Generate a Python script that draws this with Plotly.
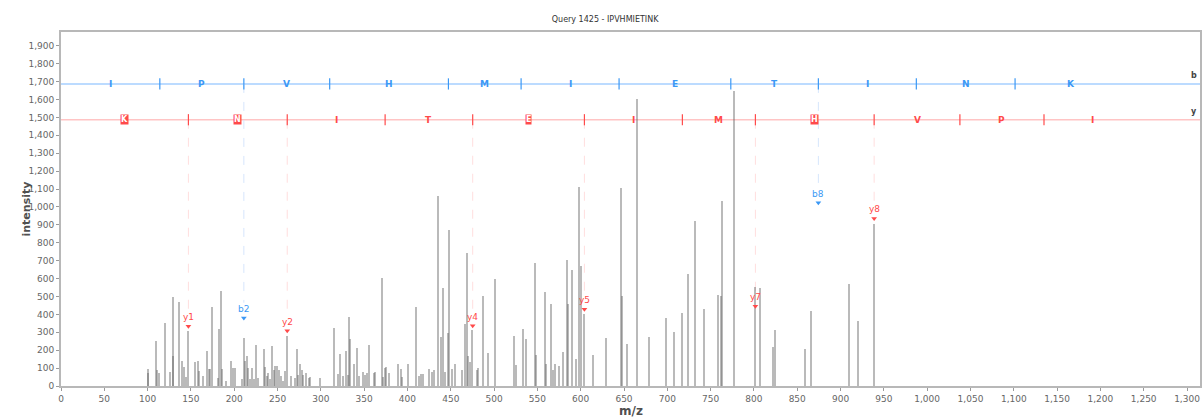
import plotly.graph_objects as go

title_text = "Query 1425 - IPVHMIETINK"
peptide = "IPVHMIETINK"

# centroided MS/MS peaks (m/z, intensity)
peak_mz = [
    100.2, 101.0, 109.8, 111.4, 113.4, 119.8, 126.4, 129.0, 129.8, 135.9,
    139.6, 142.4, 144.0, 147.1, 155.2, 158.6, 159.6, 164.4, 168.7, 170.4,
    172.4, 174.4, 180.8, 182.9, 184.8, 186.4, 190.4, 196.4, 198.4, 201.4,
    208.4, 211.0, 212.9, 214.9, 216.4, 218.4, 220.4, 222.9, 225.2, 227.1,
    234.0, 235.4, 237.4, 239.4, 241.4, 243.6, 245.5, 247.3, 249.3, 251.3,
    253.9, 255.8, 258.3, 261.3, 265.9, 270.3, 272.4, 273.6, 275.9, 277.8,
    279.0, 283.2, 285.8, 287.8, 299.3, 315.1, 320.3, 322.4, 326.0, 329.0,
    330.9, 332.8, 333.4, 338.6, 341.7, 343.7, 348.2, 350.9, 353.2, 355.9,
    361.7, 362.8, 370.1, 372.0, 373.5, 375.2, 378.9, 389.2, 392.2, 394.2,
    400.8, 410.0, 413.5, 415.2, 417.9, 425.1, 428.2, 430.2, 435.6, 438.5,
    441.2, 443.2, 447.0, 448.1, 451.7, 455.1, 462.7, 466.6, 469.3, 470.2,
    472.4, 474.9, 480.7, 481.6, 487.3, 493.1, 501.1, 523.1, 525.1, 533.4,
    536.5, 547.3, 548.6, 558.5, 560.4, 565.4, 568.1, 570.1, 575.0, 580.0,
    583.8, 585.7, 590.4, 594.1, 597.7, 600.3, 604.1, 614.1, 628.8, 646.8,
    647.5, 653.3, 664.6, 678.4, 698.9, 707.5, 717.5, 723.9, 732.5, 742.5,
    758.3, 761.7, 763.3, 777.5, 800.8, 806.6, 822.0, 824.3, 858.6, 865.5,
    910.1, 920.1, 938.2,
]
peak_int = [
    75, 97, 251, 90, 75, 354, 80, 495, 165, 470,
    140, 105, 50, 307, 133, 140, 85, 55, 195, 95,
    95, 443, 45, 317, 532, 95, 30, 140, 100, 100,
    40, 266, 140, 165, 100, 40, 100, 40, 230, 45,
    208, 105, 55, 75, 40, 222, 90, 110, 110, 90,
    55, 30, 85, 279, 55, 43, 205, 60, 121, 90,
    60, 70, 45, 50, 43, 322, 67, 179, 58, 193,
    64, 385, 260, 125, 215, 56, 76, 61, 70, 229,
    74, 80, 601, 50, 100, 105, 73, 123, 95, 50,
    123, 443, 58, 65, 65, 95, 80, 90, 1061, 274,
    546, 77, 294, 871, 95, 123, 87, 346, 745, 165,
    134, 311, 90, 100, 503, 182, 598, 281, 115, 317,
    260, 685, 172, 527, 122, 456, 90, 123, 110, 190,
    704, 456, 648, 150, 1110, 672, 402, 172, 266, 1104,
    502, 237, 1602, 275, 381, 301, 407, 625, 922, 432,
    508, 500, 1033, 1650, 555, 550, 220, 312, 205, 421,
    568, 361, 905,
]

# fragment ladders: b1..b10 / y1..y10, last entry closes the ladder
b_ion_mz = [114.1, 211.1, 310.2, 447.3, 531.2, 644.3, 773.3, 874.4, 987.5, 1101.5, 1229.6]
y_ion_mz = [147.1, 261.2, 374.2, 475.3, 604.3, 717.4, 801.7, 938.8, 1037.8, 1134.9, 1248.0]
b_row_level = 1687
y_row_level = 1487
y_boxed_residues = [0, 1, 4, 7]  # residues bracketed by two matched y ions
b_boxed_residues = []

# matched fragment annotations
matched_labels = ["y1", "b2", "y2", "y4", "y5", "y7", "b8", "y8"]
matched_mz = [147.1, 211.1, 261.2, 475.3, 604.3, 801.7, 874.4, 938.8]
matched_level = [334, 380, 308, 336, 429, 446, 1024, 936]

BLUE = "#3b98f5"
RED = "#ff4a4a"
BLUE_LINE = "#a6cfff"
RED_LINE = "#ffc4c4"
BAR = "rgba(95,95,95,0.43)"
FONT = "DejaVu Sans"

fig = go.Figure()

fig.add_trace(go.Bar(
    x=peak_mz, y=peak_int, width=2.3,
    marker=dict(color=BAR, line=dict(width=0)),
    showlegend=False, hoverinfo="x+y",
))

shapes = []
annotations = []

# ladder rows
for level, col in ((b_row_level, BLUE_LINE), (y_row_level, RED_LINE)):
    shapes.append(dict(type="line", xref="paper", yref="y", x0=0, x1=1,
                       y0=level, y1=level, line=dict(color=col, width=1.6), layer="below"))

# ladder ticks
fig.add_trace(go.Scatter(
    x=b_ion_mz[:-1], y=[b_row_level] * (len(b_ion_mz) - 1), mode="markers",
    marker=dict(symbol="line-ns", size=8, line=dict(color=BLUE, width=1.2)),
    showlegend=False, hoverinfo="skip"))
fig.add_trace(go.Scatter(
    x=y_ion_mz[:-1], y=[y_row_level] * (len(y_ion_mz) - 1), mode="markers",
    marker=dict(symbol="line-ns", size=8, line=dict(color=RED, width=1.2)),
    showlegend=False, hoverinfo="skip"))

# residue letters between ladder ticks
def ladder_letters(ions, residues, level, color, boxed):
    bounds = [0.0] + list(ions)
    for i, aa in enumerate(residues):
        mid = (bounds[i] + bounds[i + 1]) / 2
        if i in boxed:
            annotations.append(dict(x=mid, y=level, xref="x", yref="y", text=f"<b>{aa}</b>",
                                    showarrow=False, font=dict(family=FONT, size=8, color="white"),
                                    bgcolor=color, borderpad=0))
        else:
            annotations.append(dict(x=mid, y=level, xref="x", yref="y", text=f"<b>{aa}</b>",
                                    showarrow=False, font=dict(family=FONT, size=9, color=color)))

ladder_letters(b_ion_mz, peptide, b_row_level, BLUE, b_boxed_residues)
ladder_letters(y_ion_mz, peptide[::-1], y_row_level, RED, y_boxed_residues)

# row names
annotations.append(dict(x=1, y=b_row_level, xref="paper", yref="y", text="<b>b</b>",
                        xanchor="right", yanchor="bottom", xshift=-1, yshift=2, showarrow=False,
                        font=dict(family=FONT, size=8, color="#444")))
annotations.append(dict(x=1, y=y_row_level, xref="paper", yref="y", text="<b>y</b>",
                        xanchor="right", yanchor="bottom", xshift=-1, yshift=2, showarrow=False,
                        font=dict(family=FONT, size=8, color="#444")))

# matched fragment markers, labels and guide lines
m_colors = [BLUE if lab.startswith("b") else RED for lab in matched_labels]
fig.add_trace(go.Scatter(
    x=matched_mz, y=matched_level, mode="markers",
    marker=dict(symbol="triangle-down", size=5, color=m_colors, line=dict(width=0)),
    showlegend=False, hoverinfo="skip"))
for lab, mz, lvl, col in zip(matched_labels, matched_mz, matched_level, m_colors):
    annotations.append(dict(x=mz, y=lvl, xref="x", yref="y", text=lab, showarrow=False,
                            yshift=9, font=dict(family=FONT, size=9, color=col)))
    row = b_row_level if lab.startswith("b") else y_row_level
    guide = "#d6e6fc" if lab.startswith("b") else "#ffdede"
    shapes.append(dict(type="line", xref="x", yref="y", x0=mz, x1=mz, y0=row, y1=lvl + 85,
                       line=dict(color=guide, width=1, dash="dash"), layer="below"))

# axis titles
annotations.append(dict(x=0, y=0.5, xref="paper", yref="paper", text="<b>intensity</b>",
                        textangle=-90, xshift=-44, showarrow=False,
                        font=dict(family=FONT, size=11, color="#505050")))
annotations.append(dict(x=0.5, y=0, xref="paper", yref="paper", text="<b>m/z</b>",
                        yanchor="middle", yshift=-25, showarrow=False,
                        font=dict(family=FONT, size=12, color="#505050")))

axis_common = dict(showline=True, linecolor="#b8b8b8", linewidth=2, mirror=True,
                   ticks="outside", ticklen=3, tickcolor="#9a9a9a", tickwidth=1,
                   showgrid=False, zeroline=False, tickformat=",",
                   tickfont=dict(family=FONT, size=9, color="#666"))

fig.update_layout(
    width=1203, height=419,
    margin=dict(l=61, r=1, t=32, b=33),
    paper_bgcolor="white", plot_bgcolor="white",
    bargap=0, barmode="overlay",
    title=dict(text=title_text, x=0.503, xref="container", y=1 - 19 / 419, yref="container",
               xanchor="center", yanchor="middle",
               font=dict(family=FONT, size=8, color="#333")),
    xaxis=dict(range=[0, 1315], dtick=50, **axis_common),
    yaxis=dict(range=[0, 1977], dtick=100, **axis_common),
    shapes=shapes, annotations=annotations,
    font=dict(family=FONT),
)

fig.write_html("out.html")
